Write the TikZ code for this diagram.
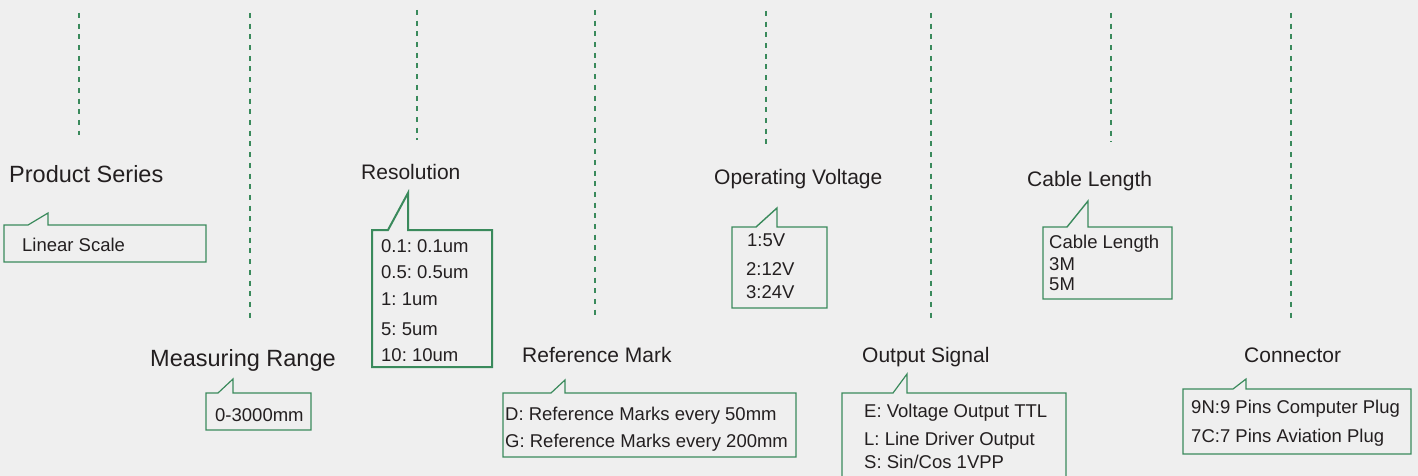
\documentclass[tikz,border=0pt]{standalone}
\usepackage{fontspec}
\setmainfont{Liberation Sans}
\frenchspacing
\usetikzlibrary{positioning}
\definecolor{bggrey}{RGB}{239,239,239}
\definecolor{calloutgreen}{RGB}{58,138,92}
\definecolor{textdark}{RGB}{35,31,32}
\tikzset{
  base/.style={font=\fontsize{18.5}{22}\selectfont, text=textdark, inner sep=0pt, anchor=base west},
  hdr/.style={base, font=\fontsize{21}{25}\selectfont},
  bighdr/.style={base, font=\fontsize{23.5}{28}\selectfont},
  callbox/.style={draw=calloutgreen, line width=1.2pt, line join=miter},
  guide/.style={draw=calloutgreen, line width=1.3pt, dash pattern=on 5pt off 5.7pt},
}
% left, top, right, bottom, tail start, tail x, apex y
\newcommand{\callout}[8][]{\draw[callbox,#1] (#2,#3) -- (#6,#3) -- (#7,#8) -- (#7,#3) -- (#4,#3) -- (#4,#5) -- (#2,#5) -- cycle;}

\begin{document}
\begin{tikzpicture}[x=1pt,y=-1pt]
  \fill[bggrey] (0,0) rectangle (1418,476);
  \useasboundingbox (0,0) rectangle (1418,476);
  % guide lines
  \foreach \x/\a/\b in {79/13/135,250/13/323,417/10/140,595/10/320,766/11/144,931/13/323,1111/13/142,1291/13/322}{
    \draw[guide] (\x,\a) -- (\x,\b);
  }
  % headings
  \node[bighdr] (series) at (9,182) {Product Series};
  \node[bighdr] (range) at (150,366) {Measuring Range};
  \node[hdr] (resol) at (361,179) {Resolution};
  \node[hdr] (refmark) at (522,362) {Reference Mark};
  \node[hdr] (volt) at (714,184) {Operating Voltage};
  \node[hdr] (signal) at (862,362) {Output Signal};
  \node[hdr] (cable) at (1027,186) {Cable Length};
  \node[hdr] (conn) at (1244,362) {Connector};
  % product series
  \callout{4}{225}{206}{262}{28}{48}{213}
  \node[base] (scale) at (22,251) {Linear Scale};
  % measuring range
  \callout{206}{393}{311}{430}{218}{233}{379}
  \node[base] (mm) at (215,421) {0-3000mm};
  % resolution
  \callout[line width=2pt]{372}{230}{492}{367}{388}{408}{193}
  \foreach \t/\y [count=\i] in {0.1: 0.1um/252,0.5: 0.5um/278,1: 1um/305,5: 5um/335,10: 10um/361}{
    \node[base] (res\i) at (381,\y) {\t};
  }
  % reference mark
  \callout{503}{393}{796}{457}{551}{565}{380}
  \node[base] (mark1) at (505,420) {D: Reference Marks every 50mm};
  \node[base] (mark2) at (505,447) {G: Reference Marks every 200mm};
  % operating voltage
  \callout[line width=1.4pt]{732}{227}{827}{308}{756}{777}{208}
  \node[base] (v1) at (747,246) {1:5V};
  \node[base] (v2) at (746,275) {2:12V};
  \node[base] (v3) at (746,298) {3:24V};
  % output signal, box runs past the lower edge
  \draw[callbox] (842,480) -- (842,393) -- (893,393) -- (907,374) -- (907,393) -- (1066,393) -- (1066,480);
  \foreach \t/\y [count=\i] in {E: Voltage Output TTL/417,L: Line Driver Output/445,{S: Sin/Cos 1VPP}/468}{
    \node[base] (sig\i) at (864,\y) {\t};
  }
  % cable length
  \callout[line width=1.4pt]{1043}{227}{1172}{299}{1067}{1088}{201}
  \foreach \t/\y [count=\i] in {Cable Length/248,3M/270,5M/290}{
    \node[base] (len\i) at (1049,\y) {\t};
  }
  % connector
  \callout{1183}{389}{1411}{454}{1233}{1246}{379}
  \node[base] (plug1) at (1191,413) {9N:9 Pins Computer Plug};
  \node[base] (plug2) at (1191,442) {7C:7 Pins Aviation Plug};
\end{tikzpicture}
\end{document}
